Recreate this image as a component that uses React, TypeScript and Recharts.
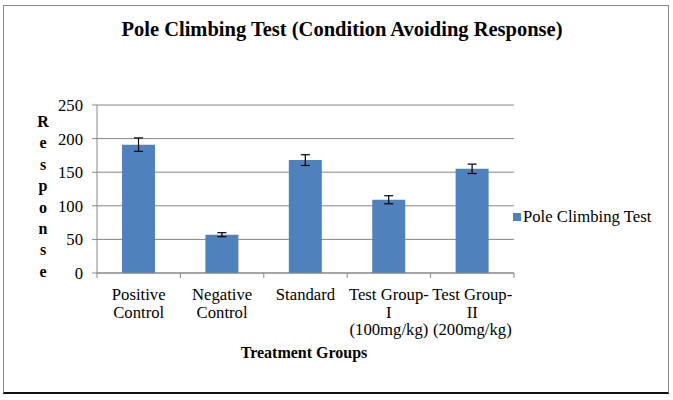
import { Bar, BarChart, CartesianGrid, ErrorBar, XAxis, YAxis } from 'recharts';

const groups = [
  'Positive Control',
  'Negative Control',
  'Standard',
  'Test Group-I (100mg/kg)',
  'Test Group-II (200mg/kg)',
];
const tickLines = [
  ['Positive', 'Control'],
  ['Negative', 'Control'],
  ['Standard'],
  ['Test Group-', 'I', '(100mg/kg)'],
  ['Test Group-', 'II', '(200mg/kg)'],
];
const responses = [191, 57, 168, 109, 155];
const errors = [10, 3, 8, 6, 7];
const yTicks = [0, 50, 100, 150, 200, 250];
const yLabel = 'Response';

const data = groups.map((name, i) => ({ name, value: responses[i], err: errors[i] }));

const W = 673;
const H = 400;
const margin = { top: 105, right: 159, left: 47, bottom: 57 };
const Y_AXIS_W = 50;
const X_AXIS_H = 70;
const PLOT_W = W - margin.left - margin.right - Y_AXIS_W;
const BAND = PLOT_W / groups.length;

const FONT = 'Liberation Serif, Tinos, serif';
const TEXT_SIZE = 16.7;
const GRID = '#868686';
const BAR = '#4F81BD';

function CategoryTick(props: any) {
  const { x, y, index } = props;
  const lines = tickLines[index] ?? [];
  const half = BAND / 2;
  return (
    <g>
      <line x1={x - half} x2={x - half} y1={y} y2={y + 5} stroke={GRID} />
      {index === groups.length - 1 && (
        <line x1={x + half} x2={x + half} y1={y} y2={y + 5} stroke={GRID} />
      )}
      {lines.map((line, i) => (
        <text
          key={i}
          x={x}
          y={y + 27 + i * 17.5}
          textAnchor="middle"
          fontSize={TEXT_SIZE}
          style={{ fontFamily: FONT }}
          fill="#000"
        >
          {line}
        </text>
      ))}
    </g>
  );
}

export default function App() {
  return (
    <div
      style={{
        position: 'absolute',
        left: 0,
        top: 0,
        width: W,
        height: H,
        background: '#fff',
        fontFamily: FONT,
      }}
    >
      <div
        style={{
          position: 'absolute',
          left: 3,
          top: 5,
          width: 666,
          height: 389,
          boxSizing: 'border-box',
          border: '1px solid #888',
          borderBottom: '2px solid #111',
        }}
      />
      <BarChart width={W} height={H} data={data} margin={margin} barCategoryGap="30%">
        <CartesianGrid stroke={GRID} vertical={false} />
        <XAxis
          dataKey="name"
          height={X_AXIS_H}
          interval={0}
          tickSize={0}
          tickMargin={0}
          axisLine={{ stroke: GRID }}
          tickLine={false}
          tick={<CategoryTick />}
        />
        <YAxis
          width={Y_AXIS_W}
          domain={[0, 250]}
          ticks={yTicks}
          interval={0}
          tickSize={5}
          tickMargin={9}
          axisLine={{ stroke: GRID }}
          tickLine={{ stroke: GRID }}
          tick={{ fill: '#000', fontSize: TEXT_SIZE, style: { fontFamily: FONT } }}
        />
        <Bar dataKey="value" fill={BAR} isAnimationActive={false}>
          <ErrorBar dataKey="err" width={4.5} stroke="#000" strokeWidth={1.2} />
        </Bar>
      </BarChart>
      <svg
        width={W}
        height={H}
        style={{ position: 'absolute', left: 0, top: 0, pointerEvents: 'none', fontFamily: FONT }}
      >
        <text x={342} y={36} textAnchor="middle" fontSize={20.5} fontWeight="bold">
          Pole Climbing Test (Condition Avoiding Response)
        </text>
        {yLabel.split('').map((ch, i) => (
          <text key={i} x={43} y={127 + i * 21.4} textAnchor="middle" fontSize={16} fontWeight="bold">
            {ch}
          </text>
        ))}
        <text x={304} y={358} textAnchor="middle" fontSize={16} fontWeight="bold">
          Treatment Groups
        </text>
        <rect x={513} y={213} width={8} height={8} fill={BAR} />
        <text x={523} y={222} fontSize={TEXT_SIZE}>
          Pole Climbing Test
        </text>
      </svg>
    </div>
  );
}
